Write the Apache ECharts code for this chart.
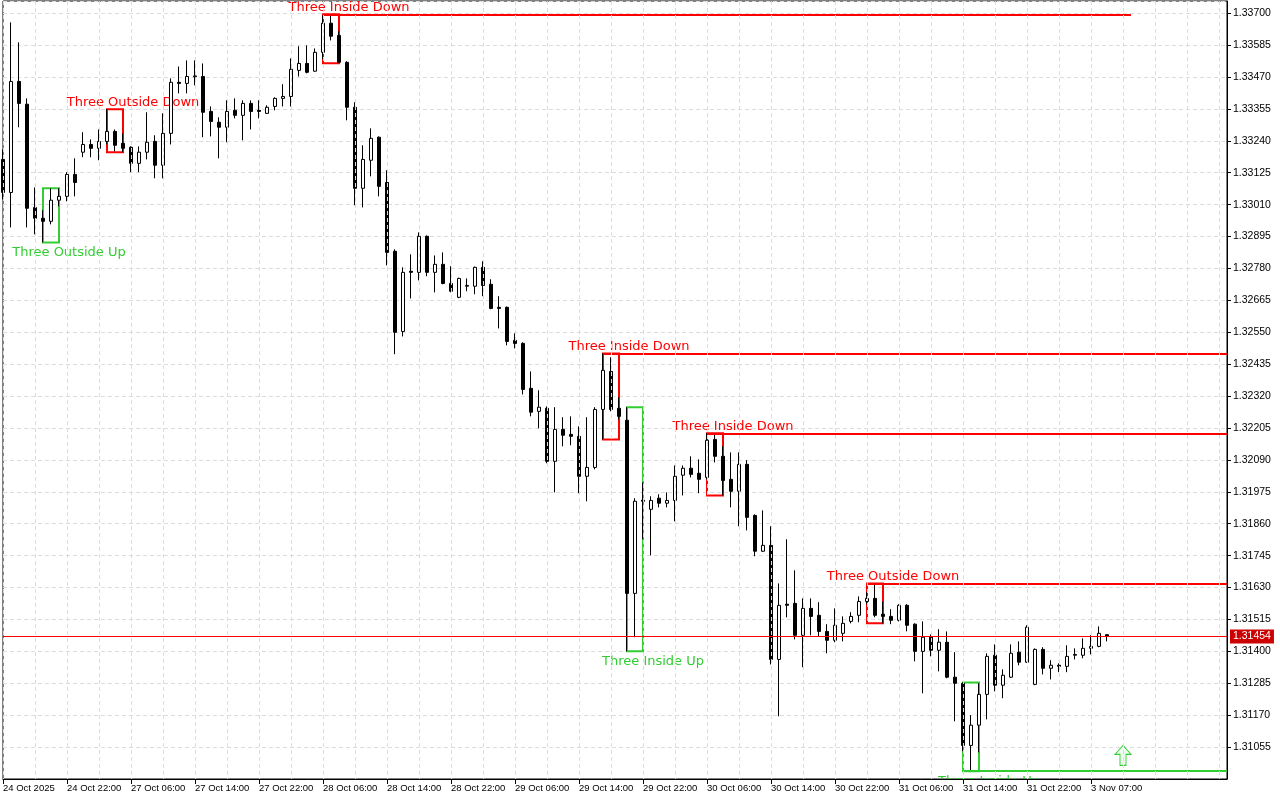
<!DOCTYPE html>
<html>
<head>
<meta charset="utf-8">
<title>H1 candles</title>
<script src="https://cdn.jsdelivr.net/npm/echarts@6/dist/echarts.min.js"></script>
<style>
  html, body { margin: 0; padding: 0; background: #fff; }
  #chart { width: 1280px; height: 800px; }
</style>
</head>
<body>
<div id="chart"></div>
<script>
// hourly bars
const opens = [
  1.33173, 1.33054, 1.33454, 1.33372, 1.33000, 1.32961, 1.32950, 1.33026, 1.33040, 1.33119,
  1.33199, 1.33227, 1.33213, 1.33238, 1.33274, 1.33231, 1.33217, 1.33159, 1.33199, 1.33238,
  1.33152, 1.33267, 1.33451, 1.33447, 1.33471, 1.33472, 1.33346, 1.33307, 1.33289, 1.33350,
  1.33332, 1.33375, 1.33350, 1.33339, 1.33364, 1.33393, 1.33400, 1.33494, 1.33519, 1.33491,
  1.33559, 1.33664, 1.33620, 1.33523, 1.33361, 1.33069, 1.33170, 1.33253, 1.33090, 1.32842,
  1.32553, 1.32770, 1.32766, 1.32896, 1.32766, 1.32795, 1.32726, 1.32676, 1.32716, 1.32716,
  1.32784, 1.32723, 1.32640, 1.32640, 1.32521, 1.32510, 1.32348, 1.32265, 1.32276, 1.32085,
  1.32200, 1.32182, 1.32175, 1.32031, 1.32063, 1.32272, 1.32409, 1.32276, 1.32233, 1.31609,
  1.31945, 1.31912, 1.31952, 1.31934, 1.31944, 1.32035, 1.32060, 1.32042, 1.32027, 1.32164,
  1.32103, 1.32020, 1.31977, 1.32074, 1.31890, 1.31761, 1.31782, 1.31371, 1.31570, 1.31573,
  1.31458, 1.31555, 1.31530, 1.31472, 1.31440, 1.31465, 1.31508, 1.31530, 1.31580, 1.31591,
  1.31534, 1.31526, 1.31512, 1.31566, 1.31498, 1.31400, 1.31451, 1.31404, 1.31433, 1.31307,
  1.31285, 1.31061, 1.31134, 1.31245, 1.31386, 1.31278, 1.31307, 1.31397, 1.31361, 1.31281,
  1.31407, 1.31339, 1.31350, 1.31346, 1.31386, 1.31386, 1.31411, 1.31418, 1.31460
];
const highs = [
  1.33209, 1.33667, 1.33595, 1.33393, 1.33072, 1.32990, 1.33069, 1.33069, 1.33127, 1.33177,
  1.33271, 1.33245, 1.33281, 1.33354, 1.33281, 1.33267, 1.33220, 1.33220, 1.33343, 1.33260,
  1.33339, 1.33465, 1.33508, 1.33530, 1.33530, 1.33519, 1.33364, 1.33325, 1.33386, 1.33393,
  1.33386, 1.33386, 1.33386, 1.33368, 1.33397, 1.33444, 1.33537, 1.33581, 1.33584, 1.33573,
  1.33692, 1.33696, 1.33635, 1.33527, 1.33379, 1.33224, 1.33285, 1.33256, 1.33134, 1.32849,
  1.32784, 1.32831, 1.32910, 1.32899, 1.32827, 1.32838, 1.32788, 1.32747, 1.32744, 1.32787,
  1.32806, 1.32741, 1.32680, 1.32643, 1.32546, 1.32514, 1.32409, 1.32341, 1.32283, 1.32280,
  1.32244, 1.32247, 1.32211, 1.32244, 1.32280, 1.32474, 1.32460, 1.32316, 1.32280, 1.31952,
  1.32009, 1.31959, 1.31966, 1.31973, 1.32070, 1.32070, 1.32103, 1.32092, 1.32186, 1.32182,
  1.32139, 1.32117, 1.32117, 1.32089, 1.31894, 1.31908, 1.31851, 1.31645, 1.31804, 1.31692,
  1.31591, 1.31591, 1.31577, 1.31498, 1.31555, 1.31526, 1.31541, 1.31598, 1.31613, 1.31645,
  1.31580, 1.31552, 1.31570, 1.31570, 1.31501, 1.31508, 1.31461, 1.31480, 1.31472, 1.31397,
  1.31288, 1.31170, 1.31285, 1.31393, 1.31425, 1.31335, 1.31425, 1.31436, 1.31494, 1.31411,
  1.31415, 1.31368, 1.31357, 1.31422, 1.31411, 1.31447, 1.31458, 1.31490, 1.31462
];
const lows = [
  1.33029, 1.32928, 1.33289, 1.32928, 1.32903, 1.32874, 1.32939, 1.33004, 1.33022, 1.33040,
  1.33181, 1.33181, 1.33170, 1.33227, 1.33202, 1.33199, 1.33127, 1.33127, 1.33173, 1.33105,
  1.33105, 1.33227, 1.33411, 1.33411, 1.33440, 1.33253, 1.33256, 1.33177, 1.33235, 1.33321,
  1.33242, 1.33281, 1.33321, 1.33337, 1.33350, 1.33364, 1.33364, 1.33472, 1.33483, 1.33489,
  1.33534, 1.33602, 1.33520, 1.33314, 1.33008, 1.33000, 1.33112, 1.33040, 1.32791, 1.32471,
  1.32535, 1.32672, 1.32737, 1.32752, 1.32694, 1.32723, 1.32694, 1.32673, 1.32698, 1.32687,
  1.32680, 1.32633, 1.32564, 1.32503, 1.32492, 1.32326, 1.32247, 1.32204, 1.32078, 1.31973,
  1.32139, 1.32143, 1.31970, 1.31941, 1.32056, 1.32164, 1.32265, 1.32236, 1.31400, 1.31451,
  1.31804, 1.31746, 1.31919, 1.31919, 1.31869, 1.31962, 1.32027, 1.31970, 1.32020, 1.32081,
  1.31962, 1.31919, 1.31851, 1.31836, 1.31743, 1.31758, 1.31353, 1.31166, 1.31523, 1.31443,
  1.31343, 1.31458, 1.31454, 1.31393, 1.31433, 1.31436, 1.31501, 1.31505, 1.31570, 1.31523,
  1.31501, 1.31498, 1.31508, 1.31472, 1.31364, 1.31249, 1.31382, 1.31328, 1.31303, 1.31148,
  1.31040, 1.30968, 1.31036, 1.31155, 1.31256, 1.31231, 1.31304, 1.31350, 1.31358, 1.31278,
  1.31317, 1.31299, 1.31325, 1.31325, 1.31371, 1.31375, 1.31389, 1.31415, 1.31436
];
const closes = [
  1.33054, 1.33454, 1.33375, 1.32997, 1.32961, 1.32950, 1.33026, 1.33040, 1.33119, 1.33090,
  1.33227, 1.33213, 1.33238, 1.33274, 1.33224, 1.33213, 1.33159, 1.33199, 1.33235, 1.33152,
  1.33267, 1.33451, 1.33447, 1.33472, 1.33474, 1.33343, 1.33310, 1.33289, 1.33346, 1.33332,
  1.33375, 1.33346, 1.33346, 1.33361, 1.33393, 1.33400, 1.33498, 1.33519, 1.33487, 1.33559,
  1.33664, 1.33617, 1.33523, 1.33361, 1.33069, 1.33173, 1.33249, 1.33076, 1.32838, 1.32550,
  1.32766, 1.32766, 1.32896, 1.32766, 1.32795, 1.32726, 1.32698, 1.32744, 1.32719, 1.32784,
  1.32719, 1.32636, 1.32636, 1.32517, 1.32510, 1.32344, 1.32262, 1.32280, 1.32085, 1.32200,
  1.32179, 1.32175, 1.32031, 1.32063, 1.32272, 1.32413, 1.32272, 1.32247, 1.31609, 1.31941,
  1.31941, 1.31944, 1.31934, 1.31944, 1.32031, 1.32060, 1.32038, 1.32020, 1.32161, 1.32103,
  1.32016, 1.31977, 1.32074, 1.31883, 1.31761, 1.31782, 1.31371, 1.31566, 1.31566, 1.31458,
  1.31555, 1.31526, 1.31472, 1.31440, 1.31494, 1.31501, 1.31526, 1.31580, 1.31591, 1.31530,
  1.31526, 1.31512, 1.31566, 1.31494, 1.31400, 1.31451, 1.31404, 1.31433, 1.31307, 1.31285,
  1.31061, 1.31134, 1.31245, 1.31382, 1.31278, 1.31314, 1.31393, 1.31361, 1.31487, 1.31407,
  1.31339, 1.31350, 1.31346, 1.31382, 1.31389, 1.31411, 1.31418, 1.31465, 1.31454
];

const tickLabels = [
  '24 Oct 2025', '24 Oct 22:00', '27 Oct 06:00', '27 Oct 14:00', '27 Oct 22:00',
  '28 Oct 06:00', '28 Oct 14:00', '28 Oct 22:00', '29 Oct 06:00', '29 Oct 14:00',
  '29 Oct 22:00', '30 Oct 06:00', '30 Oct 14:00', '30 Oct 22:00', '31 Oct 06:00',
  '31 Oct 14:00', '31 Oct 22:00', '3 Nov 07:00'
];

// candle patterns: first bar of each 3-bar pattern
const patternStart = [5, 13, 40, 75, 78, 88, 108, 120];
const patternName = ['Three Outside Up', 'Three Outside Down', 'Three Inside Down', 'Three Inside Down',
  'Three Inside Up', 'Three Inside Down', 'Three Outside Down', 'Three Inside Up'];
const patternBull = [true, false, false, false, true, false, false, true];
const patternLineEnd = [null, null, 140.5, 153, null, 153, 153, 153];

const lastPrice = 1.31454;
const signalBar = 140;
const signalPrice = 1.31025;

const BASE = 1.30940;   // axis bottom
const STEP = 0.00115;
const TOTAL_SLOTS = 154; // bars + empty space on the right

const RED = '#ff0000';
const GREEN = '#32cd32';
const axisFont = 'Liberation Sans';
const axisSize = 9.5;

const off = p => +(p - BASE).toFixed(6);

const categories = [];
for (let i = 0; i < TOTAL_SLOTS; i++) categories.push(String(i));

const candles = opens.map((o, i) => [off(o), off(closes[i]), off(lows[i]), off(highs[i])]);

const areas = [];
const lines = [];
patternStart.forEach((s, k) => {
  const hi = Math.max(highs[s], highs[s + 1], highs[s + 2]);
  const lo = Math.min(lows[s], lows[s + 1], lows[s + 2]);
  const col = patternBull[k] ? GREEN : RED;
  areas.push([
    {
      xAxis: s, yAxis: off(hi),
      itemStyle: { color: 'rgba(0,0,0,0)', borderColor: col, borderWidth: 2 },
      label: {
        show: true,
        formatter: patternName[k],
        position: patternBull[k] ? 'bottom' : 'top',
        distance: patternBull[k] ? 3 : -1,
        offset: [18, 0],
        color: col,
        fontSize: 13,
        fontFamily: 'DejaVu Sans'
      }
    },
    { xAxis: s + 2, yAxis: off(lo) }
  ]);
  if (patternLineEnd[k] !== null) {
    const lvl = patternBull[k] ? lo : hi;
    lines.push([
      { xAxis: s, yAxis: off(lvl), lineStyle: { color: col, width: 2, type: 'solid' } },
      { xAxis: patternLineEnd[k], yAxis: off(lvl) }
    ]);
  }
});

// current price line across the whole plot, tag on the price scale
lines.push([
  {
    xAxis: 0, yAxis: off(lastPrice),
    lineStyle: { color: RED, width: 1, type: 'solid' },
    label: {
      show: true,
      position: 'end',
      distance: 3,
      formatter: lastPrice.toFixed(5),
      color: '#fff',
      backgroundColor: '#cc0000',
      padding: [2, 3, 1, 3],
      fontSize: axisSize + 1,
      fontFamily: axisFont
    }
  },
  { xAxis: TOTAL_SLOTS - 1, yAxis: off(lastPrice) }
]);

const isTick = idx => idx % 8 === 0 && idx / 8 < tickLabels.length;

const chart = echarts.init(document.getElementById('chart'));
chart.setOption({
  animation: false,
  backgroundColor: '#fff',
  grid: {
    left: 2, right: 53, top: 1, bottom: 21,
    show: true, borderColor: '#000', borderWidth: 1
  },
  xAxis: {
    type: 'category',
    data: categories,
    boundaryGap: false,
    z: 60,
    axisLine: { lineStyle: { color: '#000', width: 1 } },
    axisTick: { show: true, interval: isTick, length: 5, lineStyle: { color: '#000' } },
    axisLabel: {
      interval: isTick,
      formatter: (v, idx) => tickLabels[idx / 8] || '',
      align: 'left',
      margin: 4,
      color: '#000',
      fontSize: axisSize,
      fontFamily: axisFont
    },
    splitLine: { show: true, interval: 3, lineStyle: { color: '#dcdcdc', type: [4, 3] } }
  },
  yAxis: {
    type: 'value',
    position: 'right',
    min: 0,
    max: 0.02804,
    interval: STEP,
    axisLine: { show: true, lineStyle: { color: '#000' } },
    axisTick: { show: true, length: 4, lineStyle: { color: '#000' } },
    axisLabel: {
      formatter: v => (BASE + v).toFixed(5),
      showMinLabel: false,
      showMaxLabel: false,
      margin: 6,
      color: '#000',
      fontSize: axisSize + 1,
      fontFamily: axisFont
    },
    splitLine: { show: true, lineStyle: { color: '#dcdcdc', type: [4, 3] } }
  },
  series: [{
    type: 'candlestick',
    data: candles,
    barWidth: 4,
    itemStyle: {
      color: '#ffffff',
      color0: '#000000',
      borderColor: '#000000',
      borderColor0: '#000000',
      borderColorDoji: '#000000',
      borderWidth: 1
    },
    markArea: { silent: true, data: areas },
    markLine: { silent: true, symbol: ['none', 'none'], label: { show: false }, data: lines },
    markPoint: {
      silent: true,
      data: [{
        coord: [signalBar, off(signalPrice)],
        symbol: 'path://M8,0 L16,9 L11,9 L11,20 L5,20 L5,9 L0,9 Z',
        symbolSize: [16, 20],
        itemStyle: { color: '#eefff0', borderColor: GREEN, borderWidth: 1 },
        label: { show: false }
      }]
    }
  }],
  graphic: [{
    type: 'rect',
    left: 0, top: 780,
    shape: { width: 1280, height: 20 },
    style: { fill: '#fff' },
    z: 50
  }]
});
</script>
</body>
</html>
